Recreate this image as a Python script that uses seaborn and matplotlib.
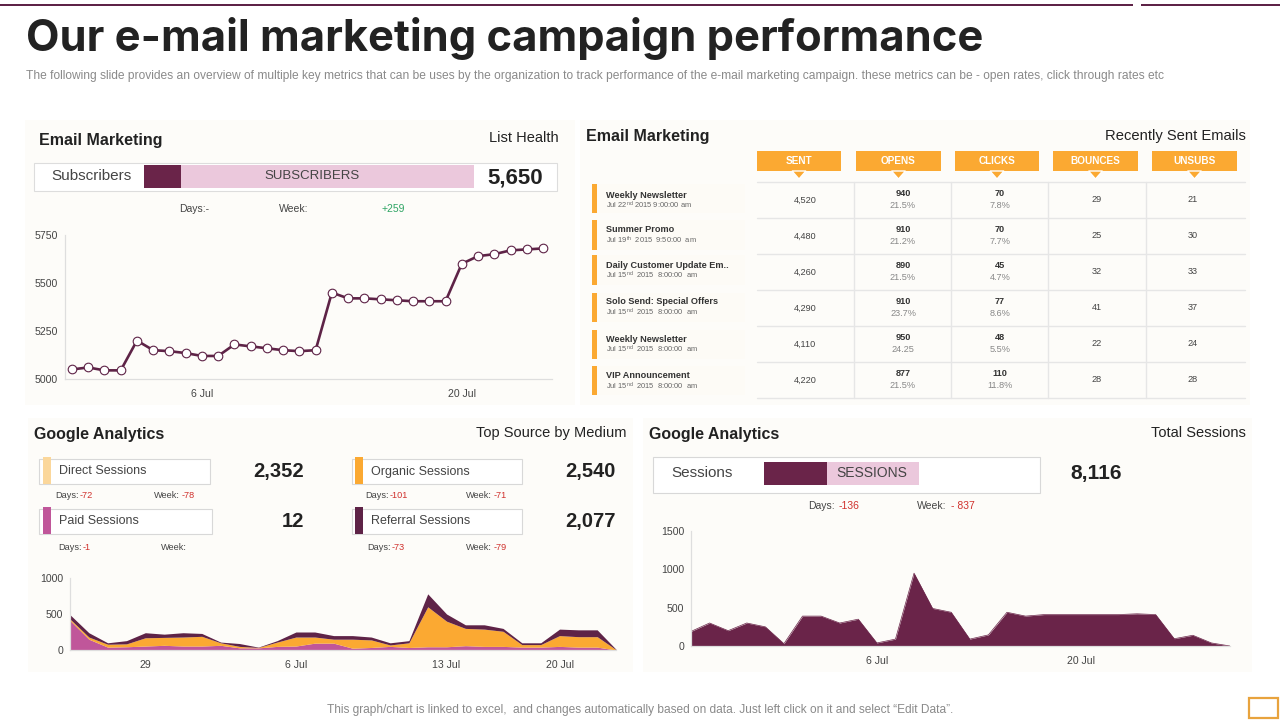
import matplotlib
matplotlib.use("Agg")
import matplotlib.pyplot as plt
from matplotlib.patches import Polygon, Rectangle
import numpy as np
import pandas as pd
import seaborn as sns

MAROON = "#6A2449"
DARK = "#5E2347"
PINK = "#EBC8DC"
ORANGE = "#FBA932"
LIGHT_ORANGE = "#FBD79B"
MAGENTA = "#C0569A"
PANEL = "#FDFCF9"
RED = "#D0312D"
GREEN = "#2FA565"
INK = "#222222"
SOFT = "#444444"

# list health
subscribers = [5050, 5060, 5045, 5045, 5200, 5150, 5145, 5135, 5120, 5120,
               5180, 5170, 5160, 5150, 5145, 5150, 5450, 5420, 5420, 5415,
               5410, 5405, 5405, 5405, 5600, 5640, 5650, 5670, 5675, 5680]
subs_ticks = [8, 24]
subs_labels = ["6 Jul", "20 Jul"]

# top source by medium
paid = [410, 150, 40, 45, 55, 65, 55, 55, 65, 30, 30, 50, 55, 95, 95,
        25, 35, 50, 35, 45, 45, 60, 50, 50, 40, 40, 50, 40, 40, 0]
organic = [20, 30, 40, 40, 115, 110, 125, 135, 35, 20, 5, 60, 125, 85, 55,
           125, 105, 20, 65, 555, 355, 240, 240, 210, 35, 35, 150, 145, 145, 5]
referral = [60, 60, 20, 45, 70, 45, 60, 40, 10, 40, 5, 20, 70, 70, 50,
            50, 40, 30, 30, 180, 100, 50, 60, 40, 25, 25, 90, 95, 95, 5]
source_ticks = [4, 12, 20, 26]
source_labels = ["29", "6 Jul", "13 Jul", "20 Jul"]

# total sessions
sessions = [190, 300, 200, 300, 250, 30, 390, 390, 300, 350,
            40, 90, 950, 490, 440, 90, 145, 440, 390, 410,
            410, 410, 410, 410, 420, 410, 95, 140, 40, 0]
session_ticks = [10, 21]
session_labels = ["6 Jul", "20 Jul"]

# recently sent emails
email_names = ["Weekly Newsletter", "Summer Promo", "Daily Customer Update Em..",
               "Solo Send: Special Offers", "Weekly Newsletter", "VIP Announcement"]
email_dates = ["Jul 22$^{nd}$ 2015 9:00:00 am", "Jul 19$^{th}$  2015  9:50:00  am",
               "Jul 15$^{nd}$  2015  8:00:00  am", "Jul 15$^{nd}$  2015  8:00:00  am",
               "Jul 15$^{nd}$  2015  8:00:00  am", "Jul 15$^{nd}$  2015  8:00:00  am"]
columns = ["SENT", "OPENS", "CLICKS", "BOUNCES", "UNSUBS"]
sent = ["4,520", "4,480", "4,260", "4,290", "4,110", "4,220"]
opens = ["940", "910", "890", "910", "950", "877"]
opens_pct = ["21.5%", "21.2%", "21.5%", "23.7%", "24.25", "21.5%"]
clicks = ["70", "70", "45", "77", "48", "110"]
clicks_pct = ["7.8%", "7.7%", "4.7%", "8.6%", "5.5%", "11.8%"]
bounces = ["29", "25", "32", "41", "22", "28"]
unsubs = ["21", "30", "33", "37", "24", "28"]

sns.set_theme(style="white")
plt.rcParams["font.family"] = ["Liberation Sans", "DejaVu Sans"]
plt.rcParams["mathtext.default"] = "regular"

fig = plt.figure(figsize=(12.8, 7.2), dpi=100, facecolor="white")
bg = fig.add_axes([0, 0, 1, 1])
bg.set_xlim(0, 1280)
bg.set_ylim(720, 0)
bg.axis("off")


def rect(x0, y0, x1, y1, color, edge=None, lw=0.8, zorder=1):
    bg.add_patch(Rectangle((x0, y0), x1 - x0, y1 - y0, facecolor=color,
                           edgecolor=edge or "none", linewidth=lw, zorder=zorder))


def label(x, y, s, size=8, color=SOFT, ha="left", weight="normal", **kw):
    bg.text(x, y + 1, s, fontsize=size, color=color, ha=ha, va="center",
            fontweight=weight, zorder=5, **kw)


def chart_axes(x0, x1, y_top, y_bottom, xlim, ylim, yticks, xticks, xlabels):
    ax = fig.add_axes([x0 / 1280, 1 - y_bottom / 720,
                       (x1 - x0) / 1280, (y_bottom - y_top) / 720])
    ax.patch.set_alpha(0)
    ax.set_xlim(*xlim)
    ax.set_ylim(*ylim)
    ax.set_yticks(yticks)
    ax.set_xticks(xticks)
    ax.set_xticklabels(xlabels)
    ax.tick_params(labelsize=7.6, colors=SOFT, length=0)
    ax.tick_params(axis="x", pad=7)
    ax.tick_params(axis="y", pad=5)
    ax.set_xlabel("")
    ax.set_ylabel("")
    sns.despine(ax=ax)
    for side in ["left", "bottom"]:
        ax.spines[side].set_color("#DEDEDE")
        ax.spines[side].set_linewidth(0.9)
    return ax


# page furniture
rect(0, 4, 1133, 6, DARK)
rect(1141, 4, 1280, 6, DARK)
label(26, 37, "Our e-mail marketing campaign performance", size=31.3, color=INK,
      weight="bold", family="Inter")
label(26, 75, "The following slide provides an overview of multiple key metrics that can be uses by the "
      "organization to track performance of the e-mail marketing campaign. these metrics can be - "
      "open rates, click through rates etc", size=8.65, color="#8A8A8A")
label(640, 709, "This graph/chart is linked to excel,  and changes automatically based on data. "
      "Just left click on it and select \u201cEdit Data\u201d.", size=8.6, color="#8A8A8A", ha="center")
rect(1248.5, 697.5, 1278, 718, "none", edge="#E8A33D", lw=1.6)

rect(25, 120, 575, 405, PANEL, zorder=0)
rect(580, 120, 1250, 405, PANEL, zorder=0)
rect(28, 418, 633, 672, PANEL, zorder=0)
rect(643, 418, 1252, 672, PANEL, zorder=0)

# list health panel
label(39, 139, "Email Marketing", size=11.5, color=INK, weight="bold")
label(559, 137, "List Health", size=10.5, color=INK, ha="right")
rect(33.5, 162.5, 556.5, 190.5, "white", edge="#DDDDDD")
label(51, 175, "Subscribers", size=11)
rect(144, 165, 181, 188, MAROON, zorder=2)
rect(181, 165, 474, 188, PINK, zorder=2)
label(312, 175, "SUBSCRIBERS", size=9.5, ha="center")
label(515, 177, "5,650", size=16, color=INK, ha="center", weight="bold")
label(179, 208, "Days:-", size=7.5)
label(279, 208, "Week:", size=7.5)
label(382, 208, "+259", size=7.5, color=GREEN)

spacing = (543 - 72) / 29
ax = chart_axes(65, 552, 235, 379, ((65 - 72) / spacing, (552 - 72) / spacing),
                (5000, 5750), [5000, 5250, 5500, 5750], subs_ticks, subs_labels)
subs_df = pd.DataFrame({"idx": np.arange(len(subscribers)), "subscribers": subscribers})
sns.lineplot(data=subs_df, x="idx", y="subscribers", ax=ax, color=DARK, linewidth=1.9,
             marker="o", markersize=6.2, markerfacecolor="white", markeredgecolor=DARK,
             markeredgewidth=0.8, clip_on=False)
ax.set_xlabel("")
ax.set_ylabel("")

# recently sent emails panel
label(586, 136, "Email Marketing", size=11.5, color=INK, weight="bold")
label(1246, 135, "Recently Sent Emails", size=10.6, color=INK, ha="right")

head_left = [757, 856, 955, 1053, 1152]
head_right = [841, 941, 1039, 1138, 1237]
for x0, x1, name in zip(head_left, head_right, columns):
    rect(x0, 151, x1, 171, ORANGE, zorder=2)
    mid = (x0 + x1) / 2
    bg.add_patch(Polygon([(mid - 7, 171), (mid + 7, 171), (mid, 179)], facecolor=ORANGE, zorder=2))
    label(mid, 160, name, size=7.2, color="white", ha="center", weight="bold")

row_lines = [182, 218, 254, 290, 326, 362, 398]
col_lines = [854, 951, 1048, 1146]
col_mid = [805, 903, 1000, 1097, 1193]
for y in row_lines:
    bg.plot([757, 1245], [y, y], color="#E6E6E6", lw=1, zorder=1)
for x in col_lines:
    bg.plot([x, x], [182, 398], color="#E6E6E6", lw=1, zorder=1)

bar_top = [184, 220, 255, 293, 330, 366]
bar_bottom = [213, 250, 285, 322, 359, 395]
name_y = [194, 229, 264, 301, 338, 375]
for i in range(len(email_names)):
    rect(597, bar_top[i], 745, bar_bottom[i], "#FDFBF6", zorder=0.5)
    rect(592, bar_top[i], 597, bar_bottom[i], ORANGE, zorder=2)
    label(606, name_y[i], email_names[i], size=6.6, color="#333333", weight="bold")
    label(606, name_y[i] + 10, email_dates[i], size=5.4, color="#666666")
    mid = (row_lines[i] + row_lines[i + 1]) / 2
    label(col_mid[0], mid - 1, sent[i], size=6.6, ha="center")
    label(col_mid[1], mid - 7, opens[i], size=6.6, color="#333333", ha="center", weight="bold")
    label(col_mid[1], mid + 5, opens_pct[i], size=6.6, color="#888888", ha="center")
    label(col_mid[2], mid - 7, clicks[i], size=6.6, color="#333333", ha="center", weight="bold")
    label(col_mid[2], mid + 5, clicks_pct[i], size=6.6, color="#888888", ha="center")
    label(col_mid[3], mid - 1, bounces[i], size=6.6, ha="center")
    label(col_mid[4], mid - 1, unsubs[i], size=6.6, ha="center")

# top source panel
label(34, 433, "Google Analytics", size=11.5, color=INK, weight="bold")
label(626, 432, "Top Source by Medium", size=10.5, color=INK, ha="right")

source_rows = [
    (38, 209, 458, 483, 43, LIGHT_ORANGE, "Direct Sessions", 59, 304, "2,352"),
    (351, 521, 458, 483, 355, ORANGE, "Organic Sessions", 371, 616, "2,540"),
    (38, 211, 508, 533, 43, MAGENTA, "Paid Sessions", 59, 304, "12"),
    (351, 521, 508, 533, 355, DARK, "Referral Sessions", 371, 616, "2,077"),
]
for x0, x1, y0, y1, sw, color, name, tx, vx, val in source_rows:
    rect(x0 + 0.5, y0 + 0.5, x1 + 0.5, y1 + 0.5, "white", edge="#D8D8D8")
    rect(sw, y0 - 1, sw + 8, y1 + 1, color, zorder=2)
    label(tx, (y0 + y1) / 2, name, size=9)
    label(vx, (y0 + y1) / 2, val, size=14.5, color=INK, ha="right", weight="bold")

label(55, 494, "Days:", size=6.6)
label(80, 494, "-72", size=6.6, color=RED)
label(154, 494, "Week:", size=6.6)
label(182, 494, "-78", size=6.6, color=RED)
label(365, 494, "Days:", size=6.6)
label(390, 494, "-101", size=6.6, color=RED)
label(466, 494, "Week:", size=6.6)
label(494, 494, "-71", size=6.6, color=RED)
label(58, 546, "Days:", size=6.6)
label(83, 546, "-1", size=6.6, color=RED)
label(161, 546, "Week:", size=6.6)
label(367, 546, "Days:", size=6.6)
label(392, 546, "-73", size=6.6, color=RED)
label(466, 546, "Week:", size=6.6)
label(494, 546, "-79", size=6.6, color=RED)

idx = np.arange(len(paid))
ax = chart_axes(70, 616, 578, 650, (0, 29), (0, 1000), [0, 500, 1000], source_ticks, source_labels)
ax.stackplot(idx, paid, organic, referral, colors=[MAGENTA, ORANGE, DARK], linewidth=0)

# total sessions panel
label(649, 433, "Google Analytics", size=11.5, color=INK, weight="bold")
label(1246, 432, "Total Sessions", size=10.5, color=INK, ha="right")
rect(652.5, 456.5, 1040, 493, "white", edge="#D8D8D8")
label(671, 472, "Sessions", size=11)
rect(764, 462, 827, 485, MAROON, zorder=2)
rect(827, 462, 919, 485, PINK, zorder=2)
label(872, 472, "SESSIONS", size=10, ha="center")
label(1096, 472, "8,116", size=15, color=INK, ha="center", weight="bold")
label(808, 505, "Days:", size=7.5)
label(839, 505, "-136", size=7.5, color=RED)
label(917, 505, "Week:", size=7.5)
label(951, 505, "- 837", size=7.5, color=RED)

ax = chart_axes(691, 1230, 531, 646, (0, 29), (0, 1500), [0, 500, 1000, 1500], session_ticks, session_labels)
session_df = pd.DataFrame({"idx": np.arange(len(sessions)), "sessions": sessions})
sns.lineplot(data=session_df, x="idx", y="sessions", ax=ax, color=MAROON, linewidth=0.5)
ax.fill_between(session_df["idx"], session_df["sessions"], color=MAROON, linewidth=0)
ax.set_xlabel("")
ax.set_ylabel("")

fig.savefig("out.png", dpi=100)
